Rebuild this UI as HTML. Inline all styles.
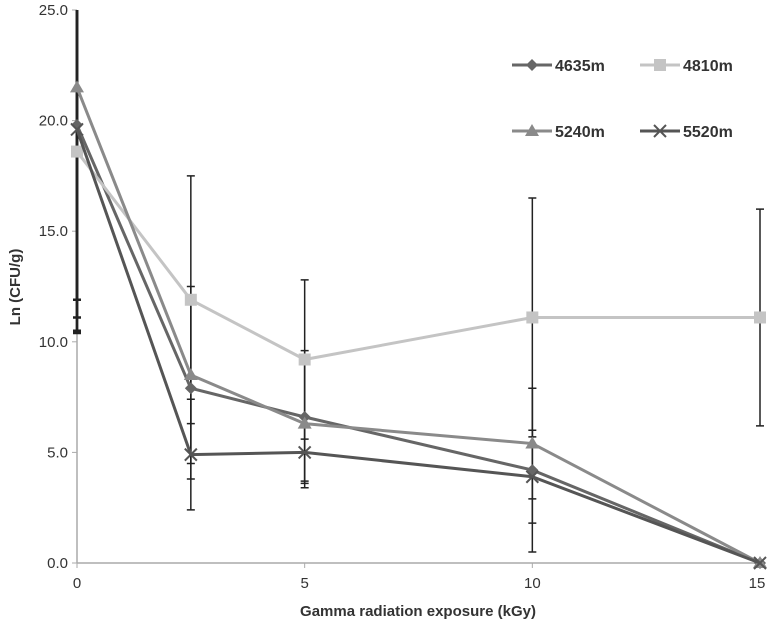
<!DOCTYPE html>
<html><head><meta charset="utf-8"><style>
body{margin:0;background:#fff}
svg{display:block;font-family:"Liberation Sans",sans-serif}
</style></head><body>
<svg id="c" width="774" height="627"></svg>
<script>
const xs=[0,2.5,5,10,15];
const seriesNames=["4635m","4810m","5240m","5520m"];
const s4635=[19.8,7.9,6.6,4.2,0];
const s4810=[18.6,11.9,9.2,11.1,11.1];
const s5240=[21.5,8.5,6.3,5.4,0];
const s5520=[19.6,4.9,5.0,3.9,0];
const e4635=[9.3,4.1,3.0,3.7,0];
const e4810=[7.5,5.6,3.6,5.4,4.9];
const e5240=[9.6,4.0,2.9,2.5,0];
const e5520=[9.2,2.5,1.3,2.1,0];
const yTicks=[0,5,10,15,20,25];
const xTicks=[0,5,10,15];
const X=v=>77+v*(760-77)/15;
const Y=v=>563-v*(563-10)/25;
const svg=document.getElementById('c');const NS="http://www.w3.org/2000/svg";
function el(t,a,p){const e=document.createElementNS(NS,t);for(const k in a)e.setAttribute(k,a[k]);(p||svg).appendChild(e);return e;}
let ax=el('line',{x1:77,y1:Y(0),x2:760,y2:Y(0),stroke:'#aaa','stroke-width':1.5});

let ay=el('line',{x1:77,y1:Y(0),x2:77,y2:Y(25),stroke:'#aaa','stroke-width':1.5});

yTicks.forEach(v=>{el('line',{x1:72,x2:77,y1:Y(v),y2:Y(v),stroke:'#aaa'});
 const t=el('text',{x:68,y:Y(v)+5,'text-anchor':'end','font-size':15,fill:'#333'});t.textContent=v.toFixed(1);
 });
xTicks.forEach(v=>{el('line',{x1:X(v),x2:X(v),y1:Y(0),y2:Y(0)+5,stroke:'#aaa'});
 const t=el('text',{x:Math.min(X(v),757),y:588,'text-anchor':'middle','font-size':15,fill:'#333'});t.textContent=v;
 });
let xt=el('text',{x:418,y:616,'text-anchor':'middle','font-size':15,'font-weight':'bold',fill:'#333'});xt.textContent='Gamma radiation exposure (kGy)';

let yt=el('text',{x:0,y:0,'text-anchor':'middle','font-size':15,'font-weight':'bold',fill:'#333',transform:'translate(20,287) rotate(-90)'});yt.textContent='Ln (CFU/g)';

const data=[s4635,s4810,s5240,s5520],errs=[e4635,e4810,e5240,e5520];
const cols=['#666','#c4c4c4','#8a8a8a','#555'];const marks=['diamond','square','triangle','x'];
function marker(g,m,x,y,c){
 if(m==='diamond')el('polygon',{points:`${x},${y-6} ${x+6},${y} ${x},${y+6} ${x-6},${y}`,fill:c},g);
 else if(m==='square')el('rect',{x:x-6,y:y-6,width:12,height:12,fill:c},g);
 else if(m==='triangle')el('polygon',{points:`${x},${y-7} ${x+7},${y+5} ${x-7},${y+5}`,fill:c},g);
 else{el('path',{d:`M${x-6} ${y-6}L${x+6} ${y+6}M${x+6} ${y-6}L${x-6} ${y+6}`,stroke:c,'stroke-width':2},g);}
}
data.forEach((d,i)=>{d.forEach((v,j)=>{if(!errs[i][j])return;
 const hi=Math.min(25,v+errs[i][j]),lo=Math.max(0,v-errs[i][j]);const x=X(xs[j]);
 const b=el('path',{d:`M${x} ${Y(hi)}V${Y(lo)}M${x-4} ${Y(lo)}h8`+(v+errs[i][j]<=25?`M${x-4} ${Y(hi)}h8`:''),stroke:'#222','stroke-width':j===0?2.5:1.5,fill:'none'});
 });});
data.forEach((d,i)=>{const g=el('g',{});
 el('polyline',{points:d.map((v,j)=>X(xs[j])+','+Y(v)).join(' '),fill:'none',stroke:cols[i],'stroke-width':3},g);
 d.forEach((v,j)=>marker(g,marks[i],X(xs[j]),Y(v),cols[i]));});
const lp=[[512,65],[640,65],[512,131],[640,131]];
seriesNames.forEach((n,i)=>{const g=el('g',{});
 const [x,y]=lp[i];el('line',{x1:x,x2:x+40,y1:y,y2:y,stroke:cols[i],'stroke-width':3},g);marker(g,marks[i],x+20,y,cols[i]);
 const t=el('text',{x:x+43,y:y+6,'font-size':16,'font-weight':'bold',fill:'#333'},g);t.textContent=n;});
</script>
</body></html>
